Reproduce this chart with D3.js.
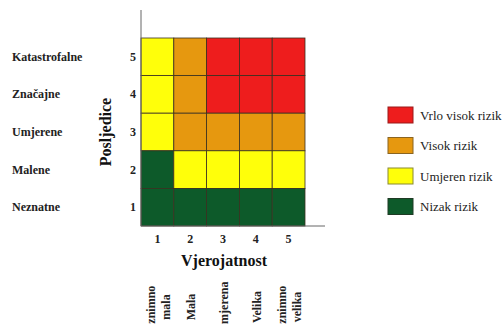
<!DOCTYPE html>
<html>
<head>
<meta charset="utf-8">
<script src="https://cdn.jsdelivr.net/npm/d3@7"></script>
<style>
  body { margin: 0; background: #fff; }
</style>
</head>
<body>
<script>
var w = 504;
var h = 324;

// data
var likelihood = [1, 2, 3, 4, 5];
var likelihoodNames = [["Iznimno", "mala"], ["Mala"], ["Umjerena"], ["Velika"], ["Iznimno", "velika"]];
var impact = [5, 4, 3, 2, 1];
var impactNames = ["Katastrofalne", "Značajne", "Umjerene", "Malene", "Neznatne"];
// risk level per row (impact 5 -> 1), per column (likelihood 1 -> 5)
var riskRows = [
  ["U", "V", "VV", "VV", "VV"],
  ["U", "V", "VV", "VV", "VV"],
  ["U", "V", "V", "V", "V"],
  ["N", "U", "U", "U", "U"],
  ["N", "N", "N", "N", "N"]
];
var legendKeys = ["VV", "V", "U", "N"];
var legendNames = ["Vrlo visok rizik", "Visok rizik", "Umjeren rizik", "Nizak rizik"];

var color = d3.scaleOrdinal()
  .domain(["VV", "V", "U", "N"])
  .range(["#ee1d1d", "#e6980f", "#ffff0a", "#0d5a2a"]);
var strokeColor = d3.scaleOrdinal()
  .domain(["VV", "V", "U", "N"])
  .range(["#9a1a1a", "#8a6420", "#8a8a30", "#1f3a25"]);

var svg = d3.select("body").append("svg")
  .attr("width", w).attr("height", h)
  .attr("font-family", "'Liberation Serif', 'Times New Roman', serif");

var x = d3.scaleBand().domain(likelihood).range([141, 305]);
var y = d3.scaleBand().domain(impact).range([38, 226]);

var cells = [];
riskRows.forEach(function(row, i) {
  row.forEach(function(r, j) {
    cells.push({ impact: impact[i], like: likelihood[j], risk: r });
  });
});

svg.append("g").selectAll("rect")
  .data(cells)
  .enter().append("rect")
  .attr("x", function(d) { return x(d.like); })
  .attr("y", function(d) { return y(d.impact); })
  .attr("width", x.bandwidth())
  .attr("height", y.bandwidth())
  .attr("fill", function(d) { return color(d.risk); })
  .attr("stroke", "#3a3020")
  .attr("stroke-width", 0.8);

// axis lines
svg.append("line").attr("x1", 141).attr("y1", 10).attr("x2", 141).attr("y2", 226)
  .attr("stroke", "#666").attr("stroke-width", 1);
svg.append("line").attr("x1", 141).attr("y1", 226).attr("x2", 325).attr("y2", 226)
  .attr("stroke", "#666").attr("stroke-width", 1);

// y tick numbers and names
svg.append("g").selectAll("text")
  .data(impact)
  .enter().append("text")
  .attr("x", 133)
  .attr("y", function(d) { return y(d) + y.bandwidth() / 2 + 4; })
  .attr("text-anchor", "middle")
  .attr("font-weight", "bold")
  .attr("font-size", 12)
  .attr("fill", "#222")
  .text(function(d) { return d; });

svg.append("g").selectAll("text")
  .data(impact)
  .enter().append("text")
  .attr("x", 12)
  .attr("y", function(d) { return y(d) + y.bandwidth() / 2 + 4; })
  .attr("font-weight", "bold")
  .attr("font-size", 12)
  .attr("fill", "#222")
  .text(function(d, i) { return impactNames[i]; });

svg.append("text")
  .attr("transform", "translate(111,132) rotate(-90)")
  .attr("text-anchor", "middle")
  .attr("font-weight", "bold")
  .attr("font-size", 16)
  .attr("fill", "#111")
  .text("Posljedice");

// x tick numbers
svg.append("g").selectAll("text")
  .data(likelihood)
  .enter().append("text")
  .attr("x", function(d) { return x(d) + x.bandwidth() / 2; })
  .attr("y", 243)
  .attr("text-anchor", "middle")
  .attr("font-weight", "bold")
  .attr("font-size", 12)
  .attr("fill", "#222")
  .text(function(d) { return d; });

svg.append("text")
  .attr("x", 224)
  .attr("y", 266)
  .attr("text-anchor", "middle")
  .attr("font-weight", "bold")
  .attr("font-size", 16)
  .attr("fill", "#111")
  .text("Vjerojatnost");

// rotated likelihood names (run off the bottom edge as in the source)
var names = svg.append("g").selectAll("g")
  .data(likelihood)
  .enter().append("g")
  .attr("transform", function(d) {
    return "translate(" + (x(d) + x.bandwidth() / 2 + 1) + ",307) rotate(-90)";
  });

names.each(function(d, i) {
  var lines = likelihoodNames[i];
  var g = d3.select(this);
  lines.forEach(function(t, k) {
    g.append("text")
      .attr("x", 0)
      .attr("y", (k - (lines.length - 1) / 2) * 15 + 4)
      .attr("text-anchor", "middle")
      .attr("font-weight", "bold")
      .attr("font-size", 12)
      .attr("fill", "#222")
      .text(t);
  });
});

// legend
var legend = svg.append("g").selectAll("g")
  .data(legendKeys)
  .enter().append("g")
  .attr("transform", function(d, i) { return "translate(388," + (107 + i * 30.5) + ")"; });

legend.append("rect")
  .attr("width", 25)
  .attr("height", 16)
  .attr("fill", function(d) { return color(d); })
  .attr("stroke", function(d) { return strokeColor(d); })
  .attr("stroke-width", 1);

legend.append("text")
  .attr("x", 32)
  .attr("y", 12.5)
  .attr("font-size", 13)
  .attr("fill", "#222")
  .text(function(d, i) { return legendNames[i]; });
</script>
</body>
</html>
